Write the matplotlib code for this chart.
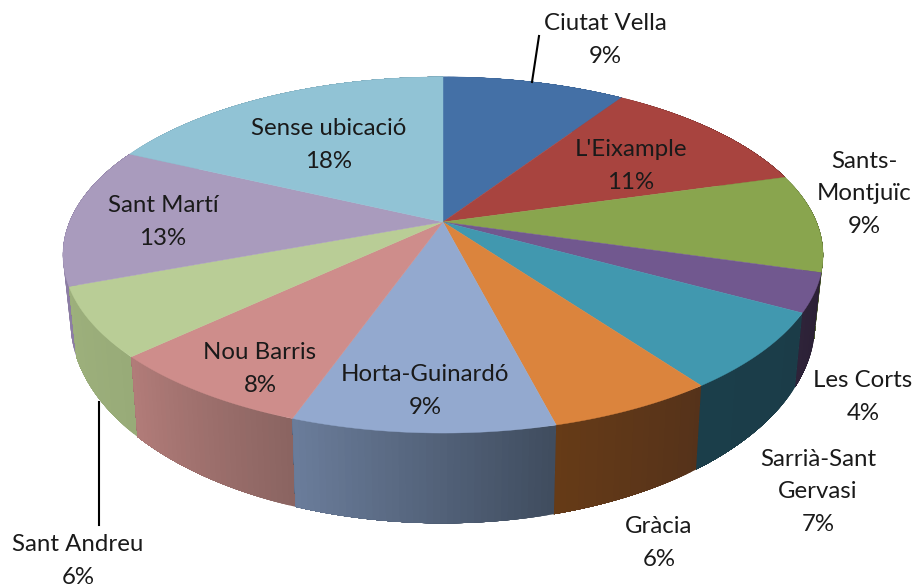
import numpy as np
import matplotlib.pyplot as plt
from matplotlib.colors import to_rgb

districts = ["Ciutat Vella", "L'Eixample", "Sants-\nMontjuïc", "Les Corts",
             "Sarrià-Sant\nGervasi", "Gràcia", "Horta-Guinardó", "Nou Barris",
             "Sant Andreu", "Sant Martí", "Sense ubicació"]
values = [9.3, 11.3, 8.9, 3.5, 7, 6, 9.4, 7.6, 6.3, 12.7, 18]
percents = ["9%", "11%", "9%", "4%", "7%", "6%", "9%", "8%", "6%", "13%", "18%"]

top_colors = ["#4470A6", "#A8443F", "#89A54E", "#71588F", "#4198AF", "#DB843D",
              "#93A9CF", "#CE8D8B", "#B9CD96", "#A99BBD", "#91C3D5"]
wall_left = ["#3A5F8C", "#6B2C2A", "#4A5A2A", "#2E2339", "#1B3E4A", "#663B17",
             "#6B7D9B", "#B27C79", "#9DB07C", "#8C7DA4", "#7AA5B5"]
wall_right = ["#3A5F8C", "#6B2C2A", "#4A5A2A", "#2B2035", "#1B3C48", "#55321A",
              "#3F4C5E", "#8A6461", "#98AB78", "#8C7DA4", "#7AA5B5"]

# label centres in pixels
label_x = [605, 631, 864, 863, 818, 659, 425, 260, 78, 163, 329]
label_y = [40, 166, 194, 397, 492, 543, 391, 369, 561, 222, 145]

# pie geometry in pixels, with a bit of perspective
cx, cy = 443, 222
rx, ry = 373.5, 172
persp = 0.185


def top_rim(frac):
    ang = 2 * np.pi * np.asarray(frac)
    u, v = np.sin(ang), np.cos(ang)
    w = 1 + persp * v
    return rx * u / w, -ry * v / w


def bottom_rim(frac):
    x, y = top_rim(frac)
    return 0.98 * x, 62 + 1.134 * y


fig = plt.figure(figsize=(9.17, 5.88), dpi=100)
ax = fig.add_axes([0, 0, 1, 1])
ax.set_xlim(0, 917)
ax.set_ylim(588, 0)
ax.axis("off")

edges = np.cumsum([0] + values) / sum(values)

# side wall, back slices first; each step paints over the rest of the slice
# so the shading has no seams
mid_y = [top_rim((edges[i] + edges[i + 1]) / 2)[1] for i in range(len(values))]
for i in np.argsort(mid_y):
    n = int(values[i] * 4) + 2
    fr = np.linspace(edges[i], edges[i + 1], n + 1)
    c0, c1 = np.array(to_rgb(wall_left[i])), np.array(to_rgb(wall_right[i]))
    for j in range(n):
        x1, y1 = top_rim(fr[j:])
        x2, y2 = bottom_rim(fr[j:])
        # clockwise on the front wall means right to left on screen
        col = c0 + (c1 - c0) * (1 - (j + 0.5) / n)
        ax.fill(cx + np.r_[x1, x2[::-1]], cy + np.r_[y1, y2[::-1]],
                facecolor=col, edgecolor="none")

# top face
for i in range(len(values)):
    fr = np.linspace(edges[i], edges[i + 1], 80)
    x, y = top_rim(fr)
    ax.fill(cx + np.r_[0, x], cy + np.r_[0, y], facecolor=top_colors[i],
            edgecolor=top_colors[i], linewidth=0.3)

# leader lines
ax.plot([532, 539], [82, 36], color="black", linewidth=1.5)
ax.plot([99, 99], [402, 525], color="black", linewidth=1.5)

for i in range(len(districts)):
    ax.text(label_x[i], label_y[i], f"{districts[i]}\n{percents[i]}",
            ha="center", va="center", fontsize=17.3, family="Lato",
            color="#1a1a1a", linespacing=1.65)

plt.savefig("out.png", dpi=100)
